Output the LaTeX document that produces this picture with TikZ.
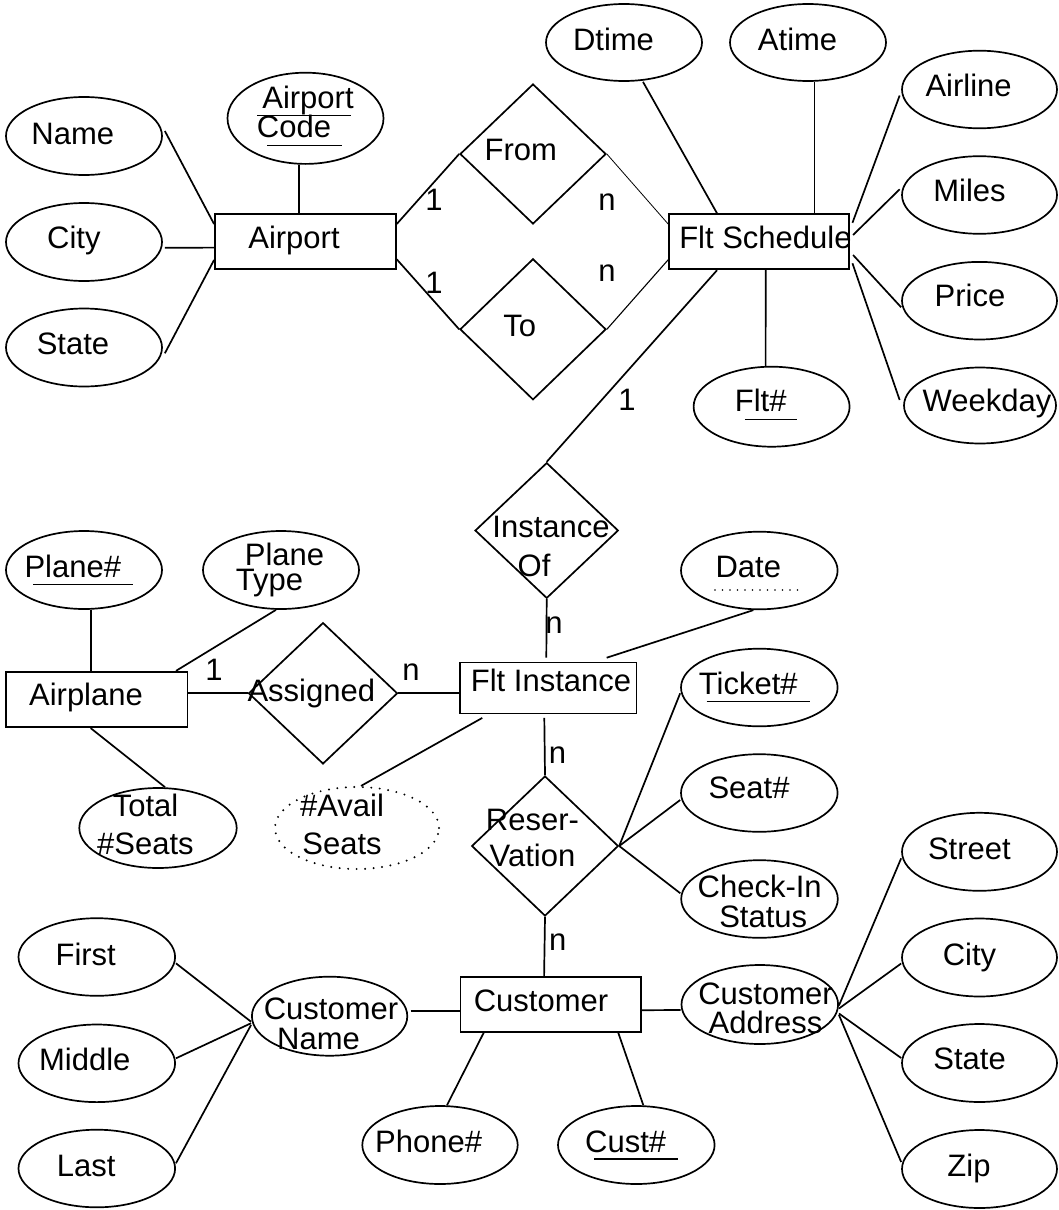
\documentclass[tikz,border=0pt]{standalone}
\usepackage{fontspec}
\setmainfont{Liberation Sans}
\usetikzlibrary{shapes.geometric}
\newcommand\twol[3]{\vtop{\baselineskip=#3\lineskiplimit=-100pt\lineskip=0pt\halign{\hfil##\hfil\cr#1\cr#2\cr}}}
\begin{document}
\begin{tikzpicture}[x=1pt,y=-1pt,
  font=\fontsize{31pt}{31pt}\selectfont, line width=1.7pt,
  attr/.style={draw, ellipse, inner sep=0pt, minimum width=156pt, minimum height=78pt},
  ent/.style={draw, rectangle, inner sep=0pt, minimum width=181pt, minimum height=55pt},
  rel/.style={draw, diamond, inner sep=0pt, minimum width=146pt, minimum height=140pt},
  txt/.style={anchor=base, inner sep=0pt},
  uline/.style={line width=1.3pt},
  dotline/.style={line width=1.6pt, line cap=round, dash pattern=on 0pt off 7.5pt}]
\fill[white] (0,0) rectangle (1058,1210);
\useasboundingbox (0,0) rectangle (1058,1210);

% ---------- entities ----------
\node[ent] (airport) at (305.4,241.8) {};
\node[ent, minimum width=180.2pt] (fs) at (759.1,241.8) {};
\node[ent, minimum width=176.7pt, minimum height=51pt, line width=1.2pt] (fltinst) at (548.3,687.8) {};
\node[ent, minimum width=181.3pt, minimum height=55.6pt] (airplane) at (96.7,699.5) {};
\node[ent, minimum width=180.7pt] (customer) at (550.8,1004.2) {};

% ---------- relationships ----------
\node[rel] (from) at (533,154) {};
\node[rel, minimum height=141pt] (to) at (533,329.3) {};
\node[rel, minimum width=143.3pt, minimum height=135.6pt] (instof) at (546.7,530.5) {};
\node[rel, minimum width=149pt, minimum height=141.3pt] (assigned) at (323,693.3) {};
\node[rel, minimum width=146.7pt] (resv) at (545,846) {};

% ---------- attributes ----------
\node[attr] (name) at (84,136) {};
\node[attr] (city) at (84,242) {};
\node[attr] (state) at (84,347.5) {};
\node[attr, minimum height=91.2pt] (code) at (305.5,118.3) {};
\node[attr, minimum height=77pt] (dtime) at (624,42.5) {};
\node[attr, minimum height=77pt] (atime) at (808,42.5) {};
\node[attr, minimum width=155pt, minimum height=77.6pt] (airline) at (979.5,89.5) {};
\node[attr, minimum width=155pt, minimum height=77.6pt] (miles) at (979.5,195) {};
\node[attr, minimum width=155pt, minimum height=77.6pt] (price) at (979.5,300.7) {};
\node[attr, minimum width=152pt, minimum height=76pt] (weekday) at (980,405.5) {};
\node[attr, minimum height=80pt] (fltno) at (771.6,406.7) {};
\node[attr] (planeno) at (84,570) {};
\node[attr] (planetype) at (281,570) {};
\node[attr, minimum width=157.4pt, minimum height=80pt] (total) at (158,828) {};
\node[draw, ellipse, inner sep=0pt, minimum width=164pt, minimum height=82pt,
      line width=2.2pt, line cap=round, dash pattern=on 0pt off 8.5pt] (avail) at (357,828) {};
\node[attr, minimum width=156.6pt, minimum height=77.6pt] (date) at (759.3,570.5) {};
\node[attr, minimum width=156.6pt, minimum height=77.6pt] (ticket) at (759.3,687.5) {};
\node[attr, minimum width=156.6pt, minimum height=77.6pt] (seat) at (759.3,793) {};
\node[attr, minimum width=156.6pt, minimum height=77.6pt] (checkin) at (759.5,899) {};
\node[attr, minimum width=156.6pt, minimum height=77.6pt] (first) at (96.8,957) {};
\node[attr, minimum width=156.6pt, minimum height=77.6pt] (middle) at (96.8,1063.3) {};
\node[attr, minimum width=156.6pt, minimum height=77.6pt] (last) at (96.8,1168.5) {};
\node[attr, minimum width=155.4pt, minimum height=79pt] (custname) at (329.6,1016.2) {};
\node[attr, minimum width=155.4pt] (phone) at (440,1145) {};
\node[attr, minimum width=156.6pt] (custno) at (636.3,1145) {};
\node[attr, minimum width=156.6pt, minimum height=79pt] (custaddr) at (759.8,1004.5) {};
\node[attr, minimum width=155pt] (street) at (979.5,851.8) {};
\node[attr, minimum width=155pt] (city2) at (979.5,957.5) {};
\node[attr, minimum width=155pt] (state2) at (979.5,1063) {};
\node[attr, minimum width=155pt] (zip) at (979.5,1169) {};

% ---------- texts ----------
\node[txt] (airportT) at (294,248.3) {Airport};
\node[txt] (fsT) at (765.4,248.3) {Flt Schedule};
\node[txt] (fltinstT) at (551,691.7) {Flt Instance};
\node[txt] (airplaneT) at (86,705.7) {Airplane};
\node[txt] (customerT) at (541,1011.7) {Customer};
\node[txt] (fromT) at (520.8,160) {From};
\node[txt] (toT) at (519.7,336.7) {To};
\node[txt] (instofT) at (551,537.3) {\twol{Instance}{Of\kern34pt}{39.4pt}};
\node[txt] (assignedT) at (311.3,701.7) {Assigned};
\node[txt] (resvT) at (532.5,830) {\twol{Reser-}{Vation}{36.7pt}};
\node[txt] (nameT) at (72.8,144) {Name};
\node[txt] (cityT) at (73.9,248.3) {City};
\node[txt] (stateT) at (73,354) {State};
\node[txt] (codeT) at (308,108.3) {\twol{Airport}{Code\kern28pt}{29.4pt}};
\node[txt] (dtimeT) at (613.5,50) {Dtime};
\node[txt] (atimeT) at (797.6,50) {Atime};
\node[txt] (airlineT) at (968.6,96.7) {Airline};
\node[txt] (milesT) at (969.5,201) {Miles};
\node[txt] (priceT) at (970,306.7) {Price};
\node[txt] (weekdayT) at (987,411.7) {Weekday};
\node[txt] (fltnoT) at (760.7,411.7) {Flt\#};
\node[txt] (planenoT) at (72.8,577.3) {Plane\#};
\node[txt] (planetypeT) at (284.5,565.7) {\twol{Plane}{Type\kern30pt}{25pt}};
\node[txt] (totalT) at (145.5,816.7) {\twol{Total}{\#Seats}{37.6pt}};
\node[txt] (availT) at (342,816.7) {\twol{\#Avail}{Seats}{37.6pt}};
\node[txt] (dateT) at (748.3,577.3) {Date};
\node[txt] (ticketT) at (748.3,694) {Ticket\#};
\node[txt] (seatT) at (749,798.3) {Seat\#};
\node[txt] (checkinT) at (759.7,897.7) {\twol{Check-In}{\kern7pt Status}{29.6pt}};
\node[txt] (firstT) at (85.7,965.7) {First};
\node[txt] (middleT) at (84.8,1070) {Middle};
\node[txt] (lastT) at (86.2,1176.7) {Last};
\node[txt] (custnameT) at (331,1019.3) {\twol{Customer}{Name\kern25pt}{30pt}};
\node[txt] (custaddrT) at (765.5,1004) {\twol{Customer}{Address}{29.3pt}};
\node[txt] (phoneT) at (428.6,1152.3) {Phone\#};
\node[txt] (custnoT) at (625.7,1152.3) {Cust\#};
\node[txt] (streetT) at (969.4,859) {Street};
\node[txt] (city2T) at (969.5,965) {City};
\node[txt] (state2T) at (969.6,1069.3) {State};
\node[txt] (zipT) at (969,1176) {Zip};

% ---------- key underlines ----------
\draw[uline] (257,115.7) -- (351,115.7);
\draw[uline] (267,145.7) -- (342,145.7);
\draw[uline] (744.8,419.3) -- (797,419.3);
\draw[uline] (33.3,584.3) -- (133.3,584.3);
\draw[uline] (706.7,701.7) -- (810,701.7);
\draw[uline] (594,1159) -- (678.2,1159);
\draw[dotline] (715,590) -- (798.3,590);

% ---------- cardinalities ----------
\node[txt] (c1) at (434,210) {1};
\node[txt] (c2) at (434,293.3) {1};
\node[txt] (c3) at (607,210) {n};
\node[txt] (c4) at (607,281.7) {n};
\node[txt] (c5) at (627,410) {1};
\node[txt] (c6) at (554,633.3) {n};
\node[txt] (c7) at (214,680.7) {1};
\node[txt] (c8) at (411,680.7) {n};
\node[txt] (c9) at (557.5,763.3) {n};
\node[txt] (c10) at (557.8,950) {n};

% ---------- connectors ----------
\draw ([xshift=2pt,yshift=5pt]name.east) -- ([yshift=17.8pt]airport.west);
\draw ([xshift=2pt,yshift=-5.8pt]city.east) -- ([yshift=-5.8pt]airport.west);
\draw ([xshift=2pt,yshift=-5.8pt]state.east) -- ([yshift=-18.2pt]airport.west);
\draw ([xshift=-6.5pt]code.south) -- ([xshift=-6.5pt]airport.north);
\draw ([yshift=17.8pt]airport.east) -- (from.west);
\draw ([yshift=-17.5pt]airport.east) -- (to.west);
\draw[line width=0.8pt] (from.east) -- ([yshift=17.8pt]fs.west);
\draw[line width=1.1pt] (to.east) -- ([yshift=-18pt]fs.west);
\draw ([xshift=19pt]dtime.south) -- ([xshift=-42pt]fs.north);
\draw ([xshift=6.5pt]atime.south) -- ([xshift=55.4pt]fs.north);
\draw ([xshift=-1.5pt,yshift=-6pt]airline.west) -- ([xshift=2.4pt,yshift=19pt]fs.east);
\draw ([xshift=-1.5pt,yshift=5.7pt]miles.west) -- ([xshift=3pt,yshift=6.8pt]fs.east);
\draw ([yshift=-6.6pt]price.west) -- ([xshift=3pt,yshift=-13.2pt]fs.east);
\draw ([xshift=-3.5pt,yshift=5.5pt]weekday.west) -- ([xshift=2.4pt,yshift=-21.5pt]fs.east);
\draw ([xshift=-6pt]fltno.north) -- ([xshift=6.6pt]fs.south);
\draw ([xshift=-42pt]fs.south) -- (instof.north);
\draw (instof.south) -- ([xshift=-2pt,yshift=4pt]fltinst.north);
\draw ([xshift=-6pt]date.south) -- ([xshift=58.4pt,yshift=4pt]fltinst.north);
\draw (assigned.east) -- ([yshift=-5.5pt]fltinst.west);
\draw ([yshift=6.2pt]airplane.east) -- (assigned.west);
\draw ([xshift=6.7pt]planeno.south) -- ([xshift=-6pt]airplane.north);
\draw ([xshift=-5pt]planetype.south) -- ([xshift=79.3pt]airplane.north);
\draw ([xshift=-6pt]airplane.south) -- ([xshift=7pt]total.north);
\draw ([xshift=-66pt,yshift=-4pt]fltinst.south) -- ([xshift=4pt]avail.north);
\draw ([xshift=-4pt,yshift=-4pt]fltinst.south) -- (resv.north);
\draw (resv.east) -- ([yshift=-5.8pt]ticket.west);
\draw (resv.east) -- ([yshift=-7pt]seat.west);
\draw (resv.east) -- ([yshift=5.7pt]checkin.west);
\draw (resv.south) -- ([xshift=-6.7pt]customer.north);
\draw ([xshift=2.4pt,yshift=5.5pt]custname.east) -- ([yshift=-6.5pt]customer.west);
\draw ([yshift=-6.3pt]first.east) -- ([yshift=-5.5pt]custname.west);
\draw ([yshift=5pt]middle.east) -- ([yshift=-7pt]custname.west);
\draw ([yshift=5.2pt]last.east) -- ([yshift=-8.8pt]custname.west);
\draw ([xshift=-67pt]customer.south) -- ([xshift=7pt]phone.north);
\draw ([xshift=67.4pt]customer.south) -- ([xshift=7pt]custno.north);
\draw ([yshift=-6pt]customer.east) -- ([yshift=-5.5pt]custaddr.west);
\draw ([yshift=-1pt]custaddr.east) -- ([yshift=-6.5pt]street.west);
\draw ([yshift=-4pt]custaddr.east) -- ([yshift=-6pt]city2.west);
\draw ([yshift=-9pt]custaddr.east) -- ([yshift=5pt]state2.west);
\draw ([yshift=-10.5pt]custaddr.east) -- ([yshift=7pt]zip.west);
\end{tikzpicture}
\end{document}
